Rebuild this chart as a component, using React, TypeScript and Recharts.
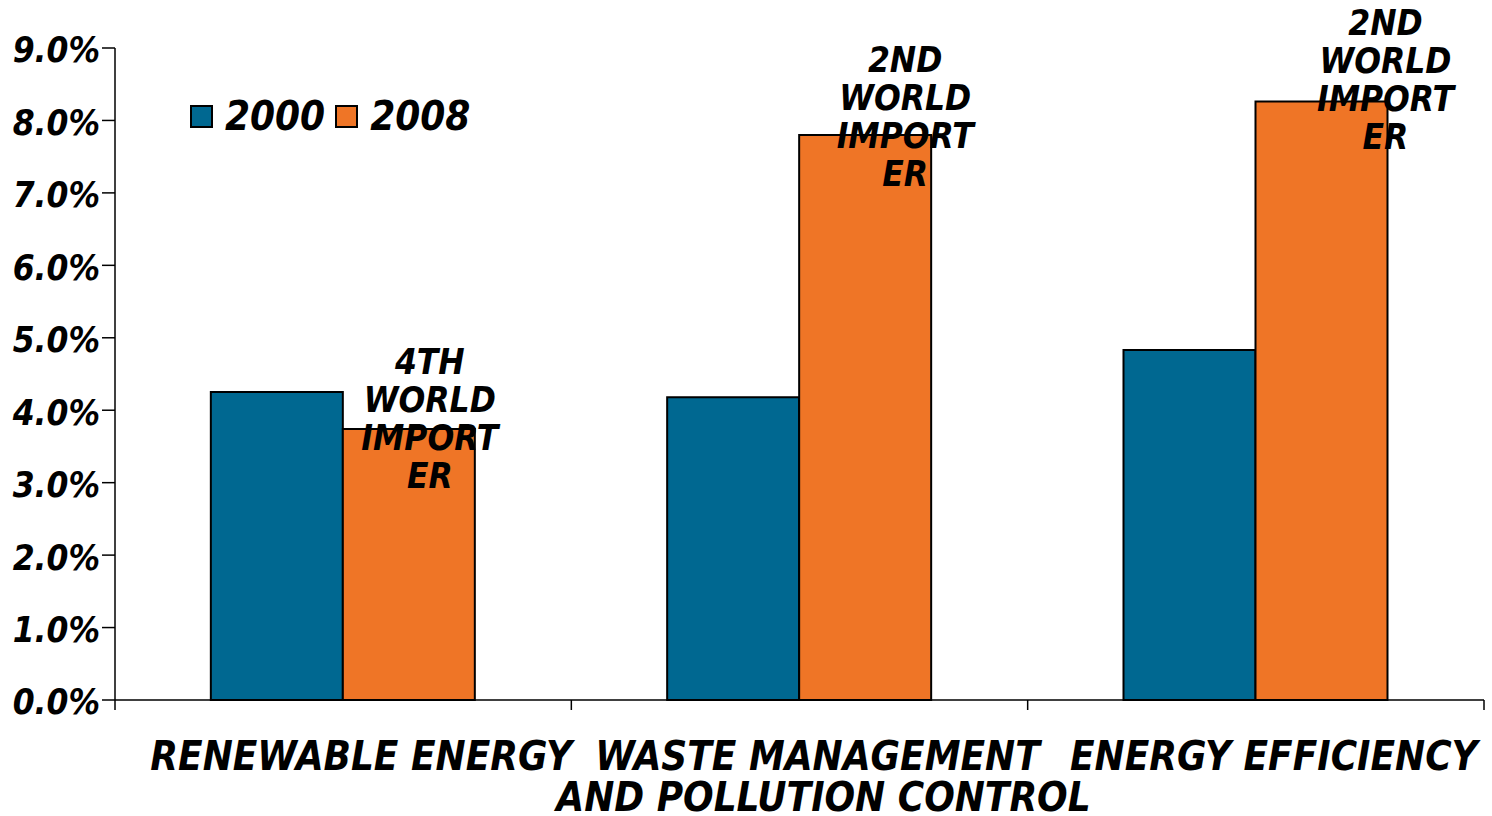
import { BarChart, Bar, XAxis, YAxis, LabelList } from "recharts";

const categories = ["RENEWABLE ENERGY", "WASTE MANAGEMENT AND POLLUTION CONTROL", "ENERGY EFFICIENCY"];
const share2000 = [4.25, 4.18, 4.83];
const share2008 = [3.74, 7.8, 8.26];
const notes = ["4TH WORLD IMPORT ER", "2ND WORLD IMPORT ER", "2ND WORLD IMPORT ER"];
const yTicks = [0, 1, 2, 3, 4, 5, 6, 7, 8, 9];
const series = [
  { key: "y2000", name: "2000", color: "#006891" },
  { key: "y2008", name: "2008", color: "#EF7526" },
];

const data = categories.map((c, i) => ({
  name: c,
  y2000: share2000[i],
  y2008: share2008[i],
  note: notes[i],
}));

const FONT = "'DejaVu Sans Condensed', 'DejaVu Sans', sans-serif";

// hand-tuned nudges for the annotation text
const noteDx = [21, 40, 64];
const noteDy = [-55, -63, -67];

const catLines: Record<string, string[]> = {
  "WASTE MANAGEMENT AND POLLUTION CONTROL": ["WASTE MANAGEMENT", "AND POLLUTION CONTROL"],
};

// category label plus tick marks on the band edges (Excel style)
function CategoryTick(props: any) {
  const { x, y, payload, index, visibleTicksCount } = props;
  const lines = catLines[payload.value] || [payload.value];
  const half = payload.offset || 0;
  const last = index === visibleTicksCount - 1;
  return (
    <g>
      <line x1={x - half} x2={x - half} y1={y} y2={y + 10} stroke="#000" strokeWidth={1.5} />
      {last && <line x1={x + half} x2={x + half} y1={y} y2={y + 10} stroke="#000" strokeWidth={1.5} />}
      <text
        x={x + 18}
        y={y + 70}
        textAnchor="middle"
        fontFamily={FONT}
        fontWeight="bold"
        fontStyle="italic"
        fontSize={40}
        fill="#000"
      >
        {lines.map((l, i) => (
          <tspan key={i} x={x + 18 + i * 6} dy={i === 0 ? 0 : 41}>
            {l}
          </tspan>
        ))}
      </text>
    </g>
  );
}

function NoteLabel(props: any) {
  const { x, y, width, index, value } = props;
  const words = String(value).split(" ");
  const cx = x + width / 2 + noteDx[index];
  return (
    <text
      x={cx}
      y={y + noteDy[index]}
      textAnchor="middle"
      fontFamily={FONT}
      fontWeight="bold"
      fontStyle="italic"
      fontSize={35}
      fill="#000"
    >
      {words.map((w, i) => (
        <tspan key={i} x={cx} dy={i === 0 ? 0 : 38}>
          {w}
        </tspan>
      ))}
    </text>
  );
}

export default function App() {
  return (
    <div style={{ position: "absolute", left: 0, top: 0, width: 1492, height: 816, background: "#fff" }}>
      <BarChart
        width={1492}
        height={816}
        data={data}
        margin={{ top: 48, right: 8, bottom: 0, left: 0 }}
        barCategoryGap="21%"
        barGap={0}
      >
        <XAxis
          dataKey="name"
          tick={<CategoryTick />}
          tickLine={false}
          axisLine={{ stroke: "#000", strokeWidth: 1.5 }}
          tickSize={0}
          tickMargin={0}
          interval={0}
          height={116}
        />
        <YAxis
          domain={[0, 9]}
          ticks={yTicks}
          width={115}
          tickFormatter={(v: number) => `${v.toFixed(1)}%`}
          tick={{
            fill: "#000",
            fontFamily: FONT,
            fontWeight: "bold",
            fontStyle: "italic",
            fontSize: 35,
            dy: 2,
          }}
          tickLine={{ stroke: "#000", strokeWidth: 1.5 }}
          axisLine={{ stroke: "#000", strokeWidth: 1.5 }}
          tickSize={13}
          tickMargin={2}
        />
        {series.map((s) => (
          <Bar
            key={s.key}
            dataKey={s.key}
            name={s.name}
            fill={s.color}
            stroke="#000"
            strokeWidth={2}
            isAnimationActive={false}
          >
            {s.key === "y2008" && <LabelList dataKey="note" content={<NoteLabel />} />}
          </Bar>
        ))}
      </BarChart>
      <div
        style={{
          position: "absolute",
          left: 190,
          top: 93,
          display: "flex",
          alignItems: "center",
          gap: 10,
        }}
      >
        {series.map((s) => (
          <div key={s.key} style={{ display: "flex", alignItems: "center", gap: 12 }}>
            <span
              style={{
                display: "inline-block",
                width: 19,
                height: 19,
                background: s.color,
                border: "2px solid #000",
              }}
            />
            <span
              style={{
                fontFamily: FONT,
                fontWeight: "bold",
                fontStyle: "italic",
                fontSize: 40,
                color: "#000",
              }}
            >
              {s.name}
            </span>
          </div>
        ))}
      </div>
    </div>
  );
}
